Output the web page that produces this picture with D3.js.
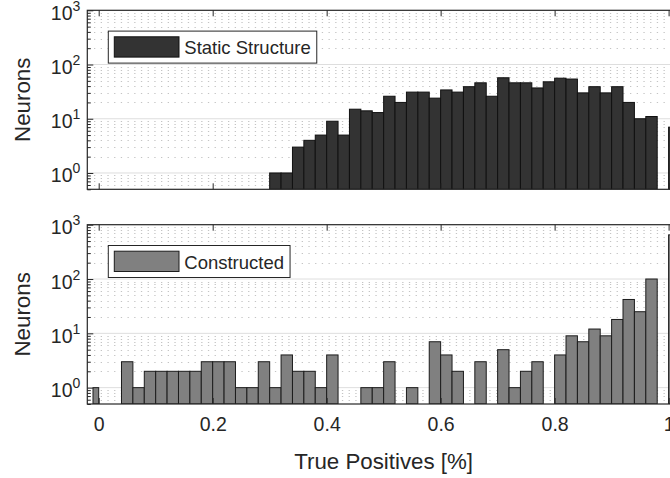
<!DOCTYPE html>
<html>
<head>
<meta charset="utf-8">
<script src="https://cdn.jsdelivr.net/npm/d3@7"></script>
<style>
  html, body { margin: 0; padding: 0; background: #ffffff; }
  svg { display: block; }
  text { font-family: "Liberation Sans", Arial, Helvetica, sans-serif; fill: #262626; }
</style>
</head>
<body>
<svg id="chart" width="670" height="478"></svg>
<script>
// ---------------- data ----------------
// histogram bin edges (True Positives fraction); first bin is the narrow one just below 0
const binEdges = [-0.01, 0.00, 0.02, 0.04, 0.06, 0.08, 0.10, 0.12, 0.14, 0.16, 0.18,
  0.20, 0.22, 0.24, 0.26, 0.28, 0.30, 0.32, 0.34, 0.36, 0.38,
  0.40, 0.42, 0.44, 0.46, 0.48, 0.50, 0.52, 0.54, 0.56, 0.58,
  0.60, 0.62, 0.64, 0.66, 0.68, 0.70, 0.72, 0.74, 0.76, 0.78,
  0.80, 0.82, 0.84, 0.86, 0.88, 0.90, 0.92, 0.94, 0.96, 0.98,
  1.00, 1.02];

// counts per bin (one value per interval between consecutive edges)
const staticCounts = [0, 0, 0, 0, 0, 0, 0, 0, 0, 0, 0,
  0, 0, 0, 0, 0, 1, 1, 3, 4, 5,
  9, 5, 15, 14, 13, 26, 20, 31, 31, 24,
  34, 31, 39, 46, 26, 57, 46, 46, 37, 48,
  56, 54, 30, 39, 30, 39, 20, 10, 11, 0,
  7];

const constructedCounts = [1, 0, 0, 3, 1, 2, 2, 2, 2, 2, 3,
  3, 3, 1, 1, 3, 1, 4, 2, 2, 1,
  4, 0, 0, 1, 1, 3, 0, 1, 0, 7,
  4, 2, 0, 3, 0, 5, 1, 2, 3, 0,
  4, 9, 7, 12, 9, 18, 42, 25, 100, 0,
  650];

const seriesNames = ["Static Structure", "Constructed"];
const xTicks = [0, 0.2, 0.4, 0.6, 0.8, 1];
const xTickLabels = ["0", "0.2", "0.4", "0.6", "0.8", "1"];
const yTicks = [1, 10, 100, 1000];
const yTickExponents = ["0", "1", "2", "3"];
const xDomain = [-0.02, 1.02];
const yDomain = [0.5, 1000];
const xLabel = "True Positives [%]";
const yLabel = "Neurons";

// ---------------- layout ----------------
const svg = d3.select("#chart");
const left = 87.3, right = 680;
const panels = [
  { top: 10.3, bottom: 189.3, counts: staticCounts, name: seriesNames[0], fill: "#333333", edge: "#111111" },
  { top: 224.7, bottom: 404, counts: constructedCounts, name: seriesNames[1], fill: "#808080", edge: "#1c1c1c" }
];
const axisColor = "#262626";
const tickFont = 19.5, labelFont = 22.3, legendFont = 18.5;

const x = d3.scaleLinear().domain(xDomain).range([left, right]);

// minor log values within domain
const minorVals = [];
[0.1, 1, 10, 100].forEach(dec => {
  for (let m = 2; m <= 9; m++) {
    const v = m * dec;
    if (v >= yDomain[0] && v < yDomain[1]) minorVals.push(v);
  }
});

const bins = binEdges.slice(0, -1).map((lo, i) => ({ lo, hi: binEdges[i + 1], i }));

panels.forEach(p => {
  const y = d3.scaleLog().domain(yDomain).range([p.bottom, p.top]);
  const g = svg.append("g");

  const clipId = "clip" + Math.round(p.top);
  svg.append("clipPath").attr("id", clipId)
    .append("rect").attr("x", left).attr("y", p.top).attr("width", right - left).attr("height", p.bottom - p.top);

  // minor grid (dotted)
  g.append("g").attr("clip-path", `url(#${clipId})`)
    .selectAll("line").data(minorVals).join("line")
    .attr("x1", left).attr("x2", right)
    .attr("y1", d => Math.round(y(d)) + 0.5).attr("y2", d => Math.round(y(d)) + 0.5)
    .attr("stroke", "#c4c4c4").attr("stroke-width", 1)
    .attr("stroke-dasharray", "1.3,5.4");

  // major grid
  g.append("g").selectAll("line").data(yTicks.filter(v => v < yDomain[1])).join("line")
    .attr("x1", left).attr("x2", right)
    .attr("y1", d => y(d)).attr("y2", d => y(d))
    .attr("stroke", "#dedede").attr("stroke-width", 1);

  // bars
  g.append("g").attr("clip-path", `url(#${clipId})`)
    .selectAll("rect").data(bins.filter(b => p.counts[b.i] > 0)).join("rect")
    .attr("x", b => x(b.lo))
    .attr("width", b => x(b.hi) - x(b.lo))
    .attr("y", b => y(p.counts[b.i]))
    .attr("height", b => y(yDomain[0]) - y(p.counts[b.i]))
    .attr("fill", p.fill)
    .attr("stroke", p.edge).attr("stroke-width", 1);

  // bottom ticks (inward)
  const xb = g.append("g").attr("transform", `translate(0,${p.bottom})`)
    .call(d3.axisBottom(x).tickValues(xTicks).tickSizeInner(-6).tickSizeOuter(0).tickPadding(13)
      .tickFormat((d, i) => p === panels[1] ? xTickLabels[i] : ""));
  xb.select(".domain").remove();
  xb.selectAll(".tick line").attr("stroke", axisColor);
  xb.selectAll(".tick text").attr("font-size", tickFont).attr("fill", axisColor)
    .style("font-family", '"Liberation Sans", Arial, sans-serif');

  // top ticks
  const xt = g.append("g").attr("transform", `translate(0,${p.top})`)
    .call(d3.axisTop(x).tickValues(xTicks).tickSizeInner(-6).tickSizeOuter(0).tickFormat(""));
  xt.select(".domain").remove();
  xt.selectAll(".tick line").attr("stroke", axisColor);

  // left major ticks
  const yl = g.append("g").attr("transform", `translate(${left},0)`)
    .call(d3.axisLeft(y).tickValues(yTicks).tickSizeInner(-6).tickSizeOuter(0).tickFormat(""));
  yl.select(".domain").remove();
  yl.selectAll(".tick line").attr("stroke", axisColor);
  // left minor ticks
  const ym = g.append("g").attr("transform", `translate(${left},0)`)
    .call(d3.axisLeft(y).tickValues(minorVals).tickSizeInner(-3.5).tickSizeOuter(0).tickFormat(""));
  ym.select(".domain").remove();
  ym.selectAll(".tick line").attr("stroke", axisColor);

  // y tick labels 10^n
  yTicks.forEach((v, i) => {
    const t = g.append("text")
      .attr("x", left - 7).attr("y", y(v) + 9.5)
      .attr("text-anchor", "end")
      .attr("font-size", tickFont);
    t.append("tspan").text("10");
    t.append("tspan").attr("dy", -9).attr("font-size", tickFont * 0.72).text(yTickExponents[i]);
  });

  // box
  g.append("rect").attr("x", left).attr("y", p.top)
    .attr("width", right - left).attr("height", p.bottom - p.top)
    .attr("fill", "none").attr("stroke", axisColor).attr("stroke-width", 1.2);

  // y label
  g.append("text")
    .attr("transform", `translate(30,${(p.top + p.bottom) / 2}) rotate(-90)`)
    .attr("text-anchor", "middle")
    .attr("font-size", labelFont)
    .text(yLabel);

  // legend
  const lx = 108.3, ly = p.top + 20.8, lh = 32;
  const lg = g.append("g");
  const box = lg.append("rect").attr("x", lx).attr("y", ly).attr("height", lh)
    .attr("fill", "#ffffff").attr("stroke", axisColor).attr("stroke-width", 1);
  lg.append("rect").attr("x", lx + 6).attr("y", ly + 5.7).attr("width", 64.7).attr("height", 20.3)
    .attr("fill", p.fill).attr("stroke", p.edge).attr("stroke-width", 1);
  const lt = lg.append("text").attr("x", lx + 76).attr("y", ly + 23)
    .attr("font-size", legendFont).text(p.name);
  const tw = lt.node().getComputedTextLength();
  box.attr("width", 76 + tw + 6);
});

// x label
svg.append("text")
  .attr("x", (left + right) / 2).attr("y", 469)
  .attr("text-anchor", "middle")
  .attr("font-size", labelFont)
  .text(xLabel);
</script>
</body>
</html>
